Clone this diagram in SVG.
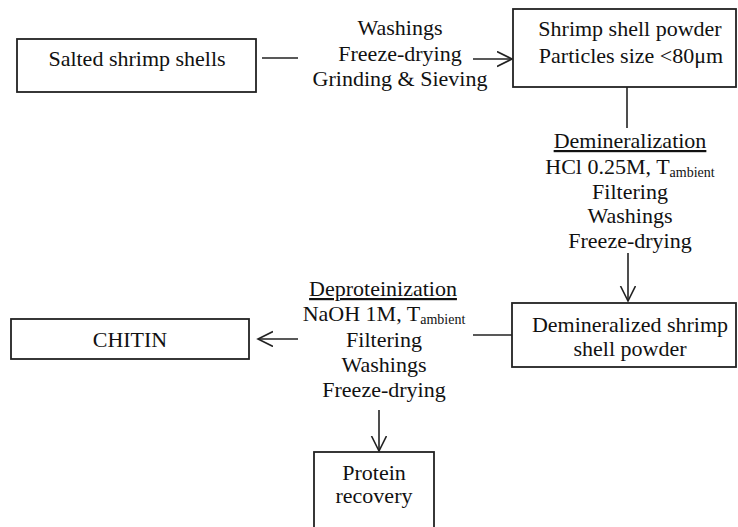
<svg xmlns="http://www.w3.org/2000/svg" width="738" height="527" viewBox="0 0 738 527">
<style>
.box{fill:#fff;stroke:#222;stroke-width:1.8}
.t{font-size:22px;fill:#111;text-anchor:middle}
.sub{font-size:14px}
.ln{stroke:#222;stroke-width:1.6;fill:none}
</style>
<defs>
<marker id="ah" markerUnits="userSpaceOnUse" markerWidth="18" markerHeight="18" refX="15" refY="8" orient="auto">
<path d="M0,0.5 L15,8 L0,15.5" fill="none" stroke="#222" stroke-width="1.6"/>
</marker>
</defs>
<rect width="738" height="527" fill="#fff"/>
<g id="connectors">
<line class="ln" x1="262" y1="58" x2="298" y2="58"/>
<line class="ln" x1="473" y1="59" x2="512" y2="59" marker-end="url(#ah)"/>
<line class="ln" x1="627" y1="87" x2="627" y2="128"/>
<line class="ln" x1="628" y1="253" x2="628" y2="301" marker-end="url(#ah)"/>
<line class="ln" x1="512" y1="335" x2="473" y2="335"/>
<line class="ln" x1="298" y1="339" x2="258" y2="339" marker-end="url(#ah)"/>
<line class="ln" x1="379" y1="410" x2="379" y2="451" marker-end="url(#ah)"/>
</g>
<g font-family="Liberation Serif, Times New Roman, DejaVu Serif, serif">
<g id="salted">
<rect class="box" x="17" y="39" width="239" height="53"/>
<text class="t" x="137" y="66">Salted shrimp shells</text>
</g>
<g id="label1">
<text class="t" x="400" y="35">Washings</text>
<text class="t" x="400" y="61">Freeze-drying</text>
<text class="t" x="400" y="86">Grinding &amp; Sieving</text>
</g>
<g id="powder">
<rect class="box" x="513" y="9" width="223" height="78"/>
<text class="t" x="630" y="36">Shrimp shell powder</text>
<text class="t" x="631" y="63">Particles size &lt;80μm</text>
</g>
<g id="label2">
<text class="t" x="630" y="148" text-decoration="underline">Demineralization</text>
<text class="t" x="630" y="174">HCl 0.25M, T<tspan class="sub" dy="3">ambient</tspan></text>
<text class="t" x="630" y="199">Filtering</text>
<text class="t" x="630" y="223">Washings</text>
<text class="t" x="630" y="248">Freeze-drying</text>
</g>
<g id="demin">
<rect class="box" x="512" y="303" width="224" height="64"/>
<text class="t" x="630" y="332">Demineralized shrimp</text>
<text class="t" x="630" y="356">shell powder</text>
</g>
<g id="label3">
<text class="t" x="383" y="296" text-decoration="underline">Deproteinization</text>
<text class="t" x="384" y="321">NaOH 1M, T<tspan class="sub" dy="3">ambient</tspan></text>
<text class="t" x="384" y="347">Filtering</text>
<text class="t" x="384" y="372">Washings</text>
<text class="t" x="384" y="397">Freeze-drying</text>
</g>
<g id="chitin">
<rect class="box" x="11" y="319" width="238" height="40"/>
<text class="t" x="130" y="347">CHITIN</text>
</g>
<g id="protein">
<rect class="box" x="314" y="452" width="120" height="90"/>
<text class="t" x="374" y="480">Protein</text>
<text class="t" x="374" y="503">recovery</text>
</g>
</g>
</svg>
